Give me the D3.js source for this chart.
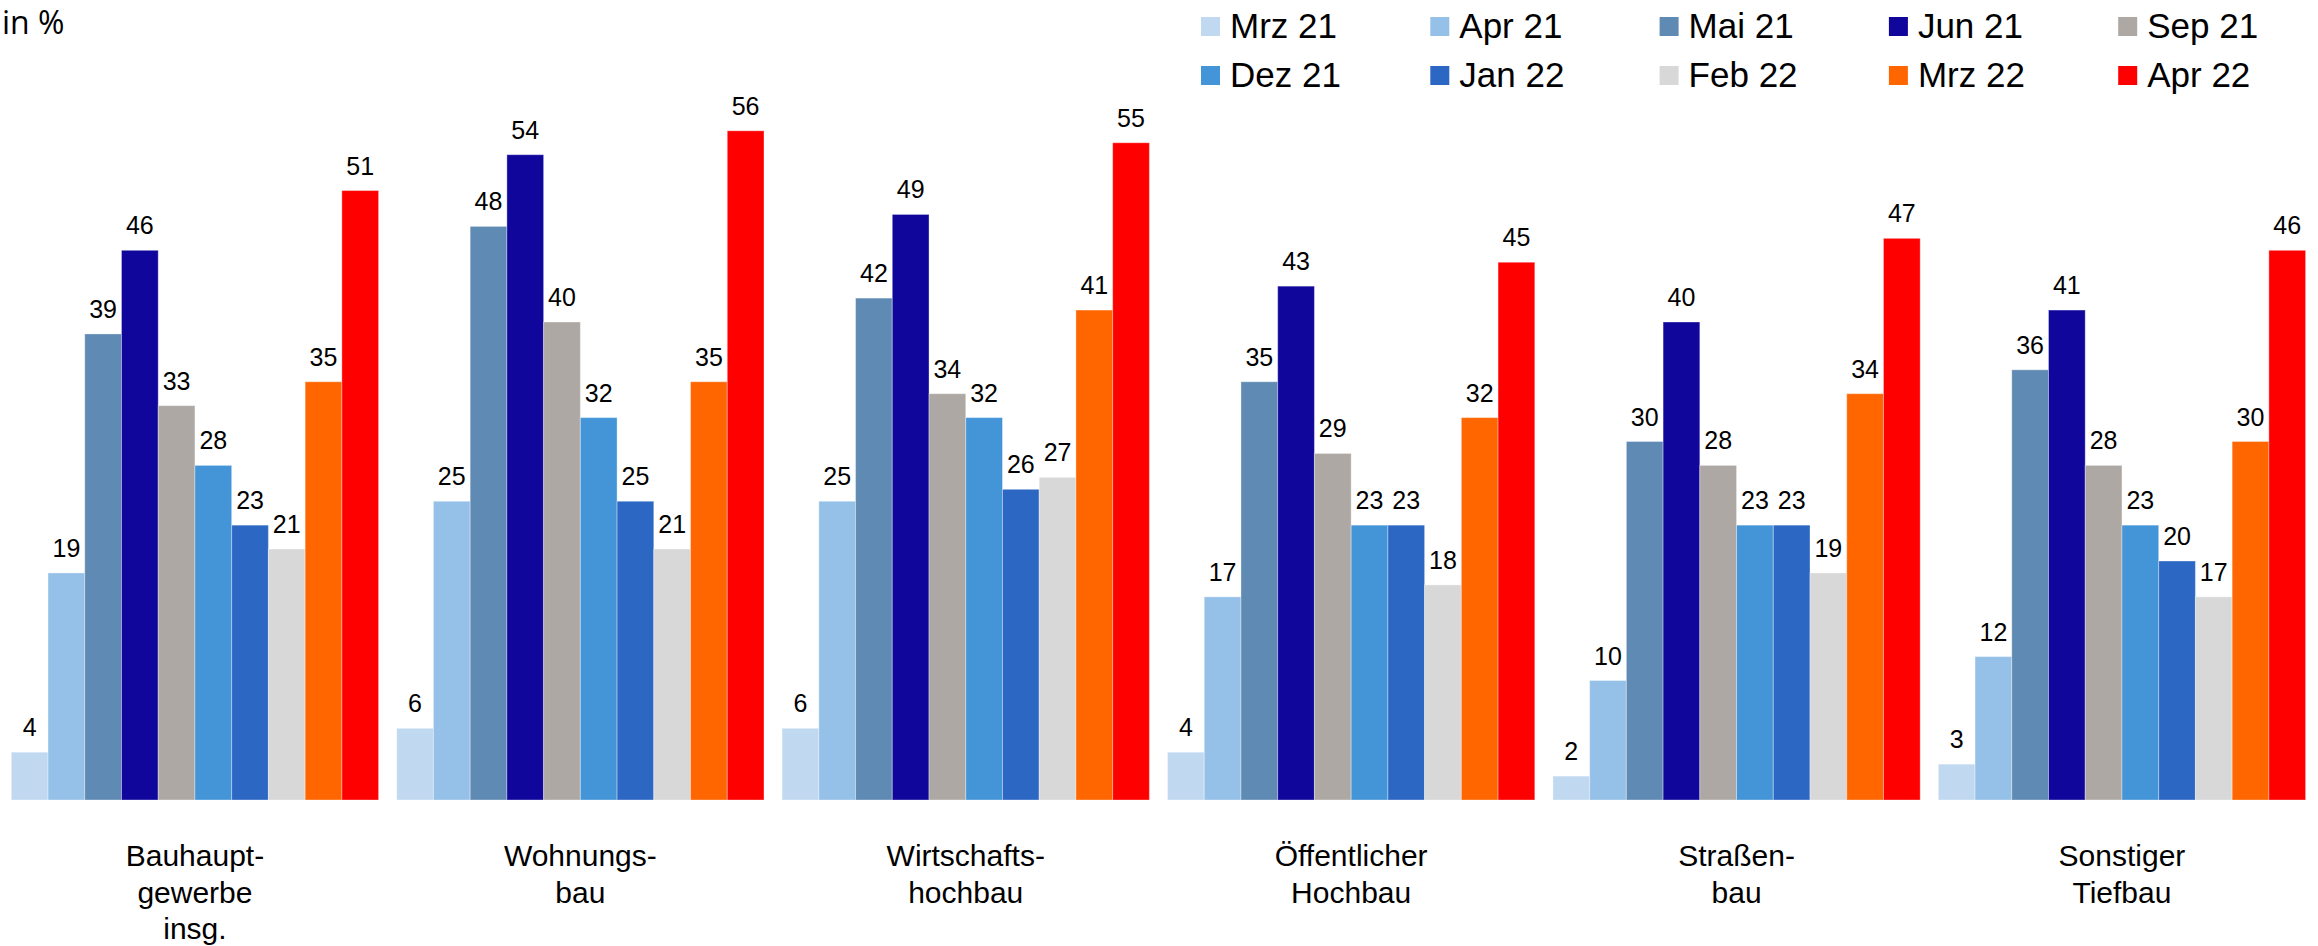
<!DOCTYPE html>
<html>
<head>
<meta charset="utf-8">
<script src="https://cdn.jsdelivr.net/npm/d3@7"></script>
<style>
  body { margin: 0; background: #fff; }
  svg text { fill: #000; }
</style>
</head>
<body>
<div id="chart"></div>
<script>
var width = 2318, height = 946;

// Data
var categories = ["Bauhauptgewerbe insg.", "Wohnungsbau", "Wirtschaftshochbau", "Öffentlicher Hochbau", "Straßenbau", "Sonstiger Tiefbau"];
var categoryLines = [["Bauhaupt-", "gewerbe", "insg."], ["Wohnungs-", "bau"], ["Wirtschafts-", "hochbau"], ["Öffentlicher", "Hochbau"], ["Straßen-", "bau"], ["Sonstiger", "Tiefbau"]];
var series = ["Mrz 21", "Apr 21", "Mai 21", "Jun 21", "Sep 21", "Dez 21", "Jan 22", "Feb 22", "Mrz 22", "Apr 22"];
var colors = ["#c0d9f0", "#95c1e8", "#5f8ab3", "#10069c", "#ada8a3", "#4395d8", "#2d67c4", "#d8d8d8", "#ff6600", "#ff0000"];

var bauhaupt   = [4, 19, 39, 46, 33, 28, 23, 21, 35, 51];
var wohnungs   = [6, 25, 48, 54, 40, 32, 25, 21, 35, 56];
var wirtschaft = [6, 25, 42, 49, 34, 32, 26, 27, 41, 55];
var oeffentl   = [4, 17, 35, 43, 29, 23, 23, 18, 32, 45];
var strassen   = [2, 10, 30, 40, 28, 23, 23, 19, 34, 47];
var tiefbau    = [3, 12, 36, 41, 28, 23, 20, 17, 30, 46];
var values = [bauhaupt, wohnungs, wirtschaft, oeffentl, strassen, tiefbau];

var svg = d3.select("#chart")
  .append("svg")
  .attr("width", width)
  .attr("height", height);

var x0 = d3.scaleBand()
  .domain(categories)
  .range([11.3, 2305.6])
  .paddingInner(0.047)
  .paddingOuter(0);

var x1 = d3.scaleBand()
  .domain(series)
  .range([0, x0.bandwidth()])
  .padding(0);

var y = d3.scaleLinear()
  .domain([0, 60])
  .range([800, 800 - 60 * 11.95]);

var color = d3.scaleOrdinal().domain(series).range(colors);

// Bars
var groups = svg.append("g")
  .selectAll("g")
  .data(categories)
  .enter().append("g")
    .attr("transform", function(d) { return "translate(" + x0(d) + ",0)"; });

groups.selectAll("rect")
  .data(function(d, i) { return values[i].map(function(v, j) { return {s: series[j], v: v}; }); })
  .enter().append("rect")
    .attr("x", function(d) { return x1(d.s); })
    .attr("width", x1.bandwidth())
    .attr("y", function(d) { return y(d.v); })
    .attr("height", function(d) { return y(0) - y(d.v); })
    .style("fill", function(d) { return color(d.s); })
    .style("stroke", "#fff")
    .style("stroke-opacity", 0.35)
    .style("stroke-width", 1);

groups.selectAll("text.val")
  .data(function(d, i) { return values[i].map(function(v, j) { return {s: series[j], v: v}; }); })
  .enter().append("text")
    .attr("class", "val")
    .attr("x", function(d) { return x1(d.s) + x1.bandwidth() / 2; })
    .attr("y", function(d) { return y(d.v) - 16; })
    .attr("text-anchor", "middle")
    .style("font-family", "'Liberation Sans', Arial, sans-serif")
    .style("font-size", "25px")
    .text(function(d) { return d.v; });

// Category labels
svg.append("g")
  .selectAll("text")
  .data(categories)
  .enter().append("text")
    .attr("text-anchor", "middle")
    .style("font-family", "'Liberation Sans', Arial, sans-serif")
    .style("font-size", "30px")
    .each(function(d, i) {
      var t = d3.select(this);
      categoryLines[i].forEach(function(line, k) {
        t.append("tspan")
          .attr("x", x0(d) + x0.bandwidth() / 2)
          .attr("y", 866 + k * 36.5)
          .text(line);
      });
    });

// Unit label
svg.append("text")
  .attr("x", 2)
  .attr("y", 34)
  .style("font-family", "'Open Sans', 'Noto Sans', sans-serif")
  .style("font-size", "32px")
  .text("in %");

// Legend
var legend = svg.append("g")
  .selectAll("g")
  .data(series)
  .enter().append("g")
    .attr("transform", function(d, i) {
      return "translate(" + (1201 + (i % 5) * 229.3) + "," + (17 + Math.floor(i / 5) * 49) + ")";
    });

legend.append("rect")
  .attr("width", 19)
  .attr("height", 19)
  .style("fill", function(d) { return color(d); });

legend.append("text")
  .attr("x", 29)
  .attr("y", 21)
  .style("font-family", "'Liberation Sans', Arial, sans-serif")
  .style("font-size", "35px")
  .text(function(d) { return d; });
</script>
</body>
</html>
